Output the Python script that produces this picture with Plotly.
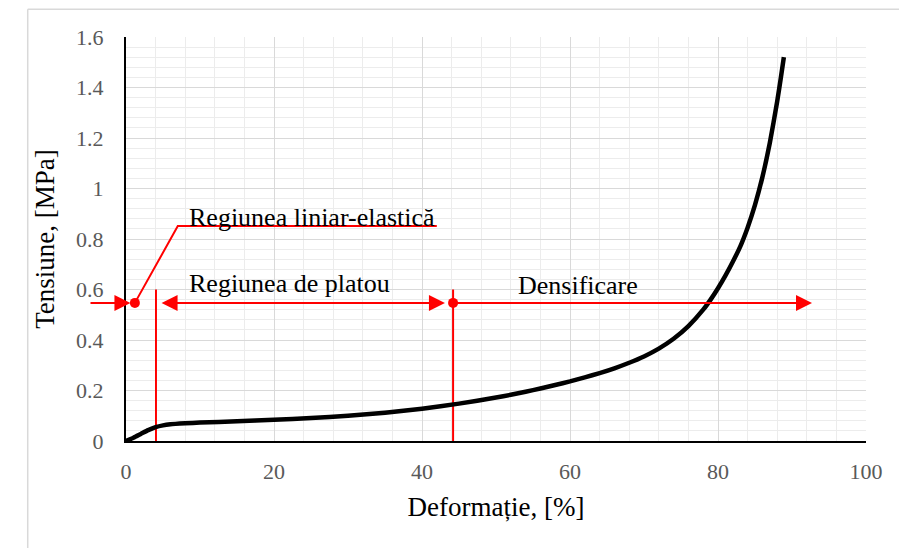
import plotly.graph_objects as go

# ---- data ----
strain = [0, 1, 2, 3, 4, 5, 6, 8, 10, 15, 20, 25, 30, 35, 40, 45, 50,
          52, 54, 56, 58, 60, 62, 64, 66, 68, 70, 72, 74, 76, 78,
          79, 80, 81, 82, 83, 84, 85, 86, 87, 88, 88.5, 88.9]
stress = [0, 0.013, 0.028, 0.043, 0.055, 0.062, 0.066, 0.070, 0.073, 0.078, 0.084,
          0.091, 0.100, 0.112, 0.128, 0.148, 0.172,
          0.183, 0.195, 0.208, 0.222, 0.236, 0.252, 0.269, 0.288, 0.310, 0.335,
          0.366, 0.405, 0.455, 0.520,
          0.560, 0.605, 0.655, 0.710, 0.770, 0.845, 0.935, 1.045, 1.180, 1.345,
          1.440, 1.520]

x_ticks = [0, 20, 40, 60, 80, 100]
y_ticks = [0, 0.2, 0.4, 0.6, 0.8, 1.0, 1.2, 1.4, 1.6]

# region markers
level = 0.547            # stress level of the region arrows
elastic_pt = 1.2         # dot of the linear-elastic region
elastic_end = 4.05       # end of the linear-elastic region
plateau_end = 44.2       # end of the plateau / start of densification
marker_top = 0.60        # top of the vertical separators
leader_x = [elastic_pt, 7.0, 42.0]
leader_y = [level, 0.851, 0.851]

labels = ["Regiunea liniar-elastică", "Regiunea de platou", "Densificare"]
label_x = [8.2, 8.2, 52.7]
label_y = [0.887, 0.622, 0.617]

RED = "#ff0000"
FONT = "Liberation Serif"

fig = go.Figure()

# separators
for xv in [elastic_end, plateau_end]:
    fig.add_trace(go.Scatter(x=[xv, xv], y=[0, marker_top], mode="lines",
                             line=dict(color=RED, width=2), hoverinfo="skip",
                             showlegend=False, cliponaxis=False))

# curve
fig.add_trace(go.Scatter(x=strain, y=stress, mode="lines",
                         line=dict(color="black", width=4.5, shape="spline", smoothing=0.5),
                         showlegend=False))

# leader line
fig.add_trace(go.Scatter(x=leader_x, y=leader_y, mode="lines",
                         line=dict(color=RED, width=2), showlegend=False,
                         cliponaxis=False))
# dots
fig.add_trace(go.Scatter(x=[elastic_pt, plateau_end], y=[level, level], mode="markers",
                         marker=dict(color=RED, size=10), showlegend=False,
                         cliponaxis=False))

arrow_common = dict(xref="x", yref="y", axref="x", ayref="y", text="",
                    showarrow=True, arrowcolor=RED, arrowwidth=2,
                    arrowhead=2, arrowsize=1.6)
# left arrow into the first dot
fig.add_annotation(x=elastic_pt - 0.6, y=level, ax=-5.0, ay=level, **arrow_common)
# plateau double arrow
fig.add_annotation(x=43.1, y=level, ax=4.6, ay=level, arrowside="end+start", startarrowhead=2,
                   startarrowsize=1.6, **arrow_common)
# densification arrow
fig.add_annotation(x=92.7, y=level, ax=plateau_end, ay=level, **arrow_common)

for t, xv, yv in zip(labels, label_x, label_y):
    fig.add_annotation(x=xv, y=yv, xref="x", yref="y", text=t, showarrow=False,
                       xanchor="left", yanchor="middle",
                       font=dict(family=FONT, size=26, color="black"))

# outer chart border (top & left edge visible)
fig.add_shape(type="line", xref="paper", yref="paper", x0=-0.1328, x1=1.2, y0=1.0688, y1=1.0688,
              line=dict(color="#d9d9d9", width=1.5))
fig.add_shape(type="line", xref="paper", yref="paper", x0=-0.1328, x1=-0.1328, y0=-0.4, y1=1.0688,
              line=dict(color="#d9d9d9", width=1.5))

fig.update_layout(
    width=899, height=548,
    margin=dict(l=126, r=33, t=37, b=107),
    paper_bgcolor="white", plot_bgcolor="white",
    font=dict(family=FONT),
    xaxis=dict(range=[0, 100], tickvals=x_ticks, showline=True, linecolor="black",
               linewidth=2, gridcolor="#d9d9d9", gridwidth=1.3,
               minor=dict(dtick=4, showgrid=True, gridcolor="#ececec", gridwidth=1.2),
               tickfont=dict(family=FONT, size=22, color="#595959"),
               ticklabelstandoff=10, zeroline=False,
               title=dict(text="Deformație, [%]", font=dict(family=FONT, size=27, color="black"),
                          standoff=14)),
    yaxis=dict(range=[0, 1.6], tickvals=y_ticks, showline=True, linecolor="black",
               linewidth=2, gridcolor="#d9d9d9", gridwidth=1.3,
               minor=dict(dtick=0.04, showgrid=True, gridcolor="#ececec", gridwidth=1.2),
               tickfont=dict(family=FONT, size=22, color="#595959"),
               ticklabelstandoff=16, zeroline=False,
               title=dict(text="Tensiune, [MPa]", font=dict(family=FONT, size=27, color="black"),
                          standoff=14)),
)

fig.write_html("out.html")
